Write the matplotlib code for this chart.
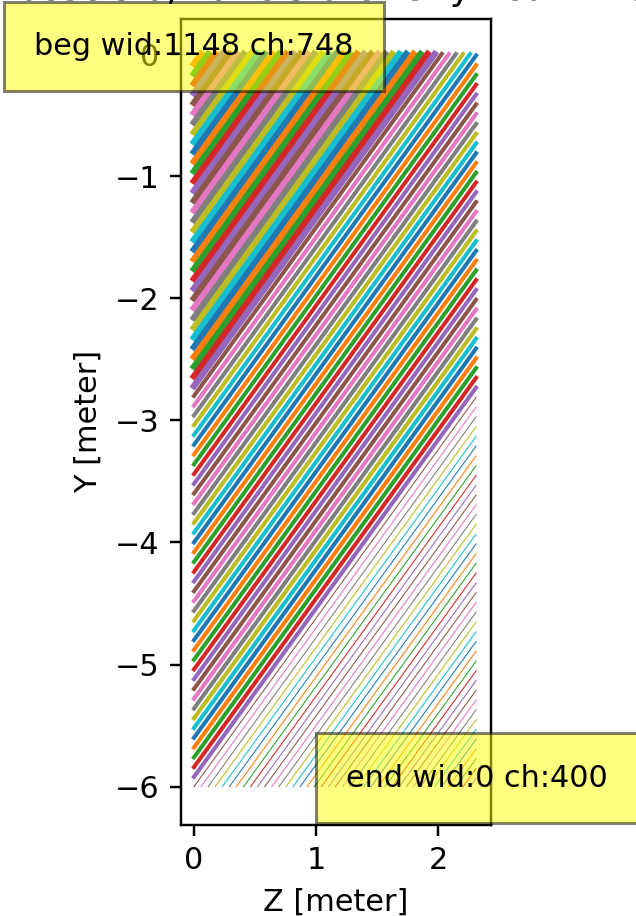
import numpy as np
import matplotlib
matplotlib.use("Agg")
import matplotlib.pyplot as plt

# Y value at Z=0 of every ray, in draw order
thick_y0 = [0.00, -0.08, -0.16, -0.24, -0.32, -0.40, -0.48, -0.56, -0.64, -0.72,
            -0.80, -0.88, -0.96, -1.04, -1.12, -1.20, -1.28, -1.36, -1.44, -1.52,
            -1.60, -1.68, -1.76, -1.84, -1.92, -2.00, -2.08, -2.16, -2.24, -2.32,
            -2.40, -2.48, -2.56, -2.64, -2.72]
medium_y0 = [-2.80, -2.88, -2.96, -3.04, -3.12, -3.20, -3.28, -3.36, -3.44, -3.52,
             -3.60, -3.68, -3.76, -3.84, -3.92, -4.00, -4.08, -4.16, -4.24, -4.32,
             -4.40, -4.48, -4.56, -4.64, -4.72, -4.80, -4.88, -4.96, -5.04, -5.12,
             -5.20, -5.28, -5.36, -5.44, -5.52, -5.60, -5.68, -5.76, -5.84, -5.92]
thin_y0 = [-6.00, -6.08, -6.16, -6.24, -6.32, -6.40, -6.48, -6.56, -6.64, -6.72,
           -6.80, -6.88, -6.96, -7.04, -7.12, -7.20, -7.28, -7.36, -7.44, -7.52,
           -7.60, -7.68, -7.76, -7.84, -7.92, -8.00, -8.08, -8.16, -8.24, -8.32,
           -8.40, -8.48, -8.56, -8.64, -8.72, -8.80, -8.88, -8.96, -9.04, -9.12]
slope = 1.38
z_limit = 2.31
y_limit = -6.0
y_ticks = [-6, -5, -4, -3, -2, -1, 0]
x_ticks = [0, 1, 2]
title = "Tassels 0, Panels 0 Overly Lean lines"
beg_label = "beg wid:1148 ch:748"
end_label = "end wid:0 ch:400"

W, H = 636, 916
DPI = 218
fig = plt.figure(figsize=(W / DPI, H / DPI), dpi=DPI)
L, R, T, B = 180.5, 490.5, 18.5, 825
ax = fig.add_axes([L / W, 1 - B / H, (R - L) / W, (B - T) / H])

px = 122.1
x0_px, y0_px = 194, 54
ax.set_xlim((L - x0_px) / px, (R - x0_px) / px)
ax.set_ylim((y0_px - B) / px, (y0_px - T) / px)


def ray(y0):
    z_start = max(0.0, (y_limit - y0) / slope)
    z_end = min(z_limit, -y0 / slope)
    z = np.array([z_start, z_end])
    return z, y0 + slope * z


for group, lw in ((thick_y0, 2.1), (medium_y0, 1.35), (thin_y0, 0.35)):
    for y0 in group:
        z, y = ray(y0)
        ax.plot(z, y, lw=lw, solid_capstyle="projecting")

ax.set_xticks(x_ticks)
ax.set_yticks(y_ticks)
ax.set_xlabel("Z [meter]")
ax.set_ylabel("Y [meter]")
ax.set_title(title)

box = dict(facecolor="yellow", alpha=0.5, pad=10)
ax.text(-1.31, -0.01, beg_label, bbox=box)
ax.text(1.245, -6.0, end_label, bbox=box)

fig.savefig("out.png", dpi=DPI)
